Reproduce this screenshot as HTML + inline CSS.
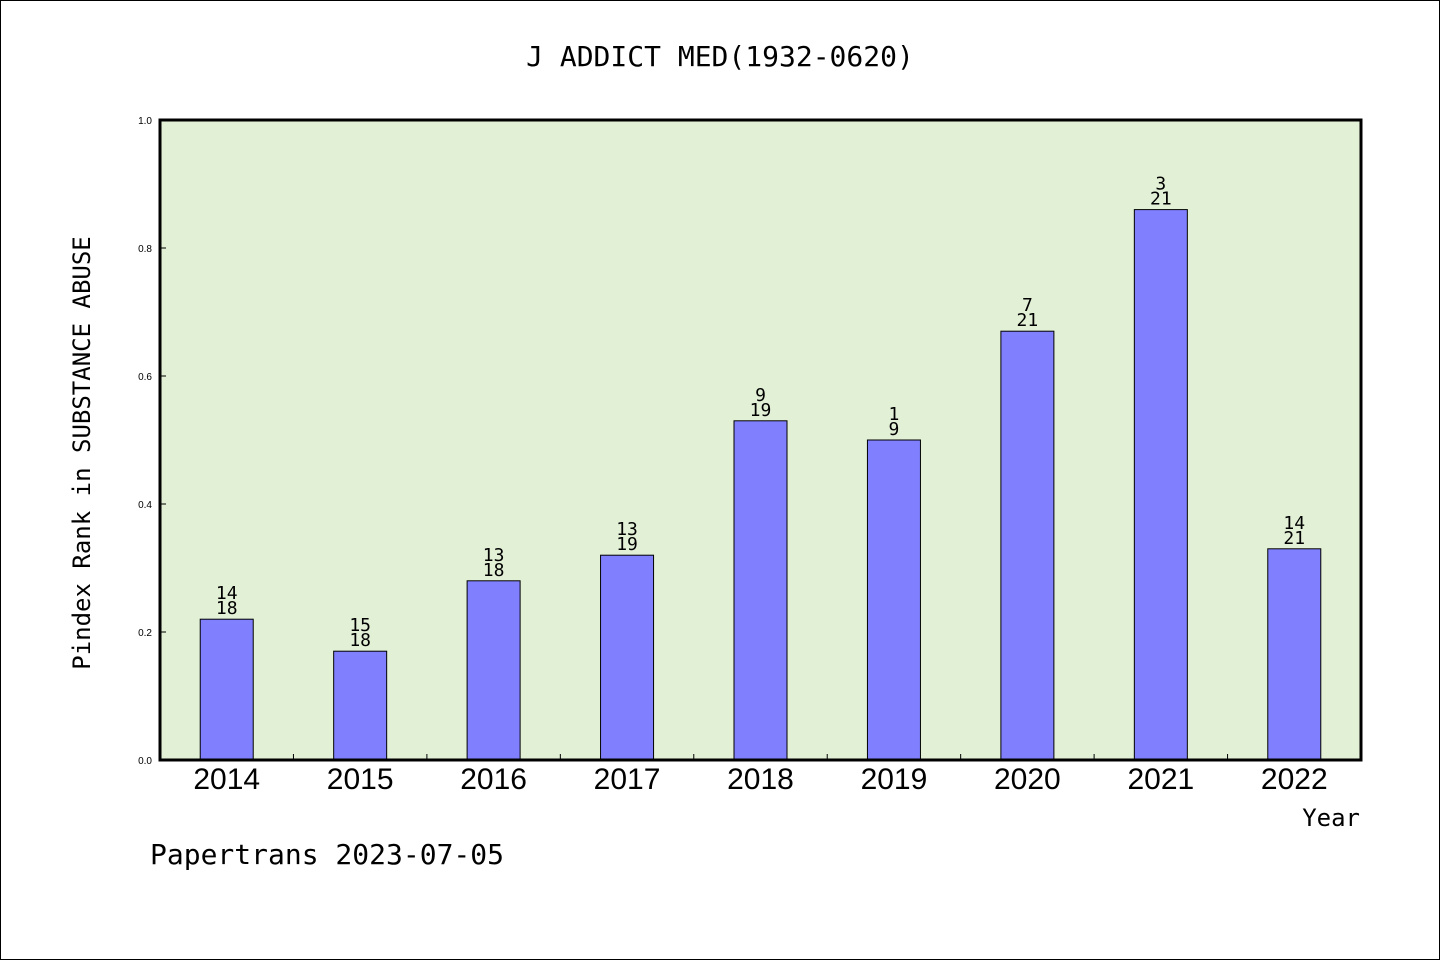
<!DOCTYPE html>
<html><head><meta charset="utf-8"><style>
body{margin:0;background:#fff}
svg{display:block;font-family:"DejaVu Sans Mono","Liberation Mono",monospace}
</style></head><body>
<svg id="chart" width="1440" height="960" viewBox="0 0 1440 960">
<rect x="0.5" y="0.5" width="1439" height="959" fill="#fff" stroke="#000"/>
<text x="720" y="66" text-anchor="middle" font-size="28">J ADDICT MED(1932-0620)</text>
<rect x="160" y="120" width="1201" height="640" fill="#e2f0d6"/>
<g id="bars"></g>
<rect x="160" y="120" width="1201" height="640" fill="none" stroke="#000" stroke-width="3"/>
<text transform="translate(90,453) rotate(-90)" text-anchor="middle" font-size="24">Pindex Rank in SUBSTANCE ABUSE</text>
<text x="1360" y="826" text-anchor="end" font-size="24">Year</text>
<text x="150" y="864" font-size="28">Papertrans 2023-07-05</text>
</svg>
<script>
const categories=["2014","2015","2016","2017","2018","2019","2020","2021","2022"];
const values=[0.22,0.17,0.28,0.32,0.53,0.50,0.67,0.86,0.33];
const ranks=["14","15","13","13","9","1","7","3","14"];
const totals=["18","18","18","19","19","9","21","21","21"];
const yTicks=[0,0.2,0.4,0.6,0.8,1.0];
const yTickLabels=["0.0","0.2","0.4","0.6","0.8","1.0"];
const L=160,R=1361,T=120,B=760;
const bw=(R-L)/categories.length;
const x=i=>L+bw*(i+0.5);
const y=v=>B-(B-T)*v;
const ns="http://www.w3.org/2000/svg";
const g=document.getElementById('bars');
function mk(t,a){const e=document.createElementNS(ns,t);for(const k in a)e.setAttribute(k,a[k]);g.appendChild(e);return e;}
yTicks.forEach((v,i)=>{
 const t=mk('line',{x1:L,x2:L+6,y1:y(v),y2:y(v),stroke:'#000','stroke-width':1});
 
 
 const l=mk('text',{x:152,y:y(v)+4,'text-anchor':'end','font-size':10,'font-family':'Liberation Sans, sans-serif'});
 l.textContent=yTickLabels[i];
 
 
});
for(let i=1;i<categories.length;i++){
 const t=mk('line',{x1:L+bw*i,x2:L+bw*i,y1:B,y2:B-6,stroke:'#000','stroke-width':1});
 
 
}
categories.forEach((c,i)=>{
 const r=mk('rect',{x:x(i)-26.5,y:y(values[i]),width:53,height:B-y(values[i]),fill:'#8080ff',stroke:'#000','stroke-width':1});
 
 
 const a=mk('text',{x:x(i),y:y(values[i])-20,'text-anchor':'middle','font-size':18});
 a.textContent=ranks[i];
 
 
 const b=mk('text',{x:x(i),y:y(values[i])-5,'text-anchor':'middle','font-size':18});
 b.textContent=totals[i];
 
 
 const xl=mk('text',{x:x(i),y:789,'text-anchor':'middle','font-size':30,'font-family':'Liberation Sans, sans-serif'});
 xl.textContent=c;
 
 
});
</script>
</body></html>
